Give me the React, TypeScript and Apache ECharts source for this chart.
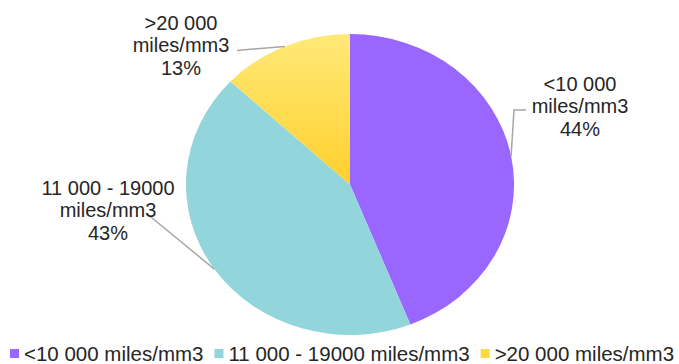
import React, { useEffect, useRef } from "react";
import * as echarts from "echarts";

const categories = ["<10 000 miles/mm3", "11 000 - 19000 miles/mm3", ">20 000 miles/mm3"];
const labelNames = ["<10 000\nmiles/mm3", "11 000 - 19000\nmiles/mm3", ">20 000\nmiles/mm3"];
const values = [44, 43, 13];

const colors: any[] = [
  "#9966FF",
  "#92D6DC",
  new echarts.graphic.LinearGradient(0, 0, 0, 1, [
    { offset: 0, color: "#FFE977" },
    { offset: 1, color: "#FFD02E" },
  ]),
];
const legendColors = ["#9966FF", "#92D6DC", "#FFD83F"];

// layout (label placement)
const CX = 350, CY = 184.5, RX = 164, RY = 150.5;
const labelPos = [
  [580, 106],
  [108, 210],
  [181, 45],
];
const lineBends: number[][][] = [
  [[514, 110], [526, 110]],
  [[146, 213]],
  [[237, 50.5]],
];

export default function App() {
  const ref = useRef<HTMLDivElement>(null);
  useEffect(() => {
    const chart = echarts.init(ref.current!, undefined, { renderer: "svg" });
    const total = values.reduce((a, b) => a + b, 0);
    const cum: number[] = [];
    let acc = 0;
    values.forEach((v) => {
      cum.push(acc);
      acc += v;
    });
    const series = categories.map((name, i) => ({
      type: "custom",
      name,
      coordinateSystem: "none",
      itemStyle: { color: legendColors[i] },
      data: [values[i]],
      renderItem: (params: any, api: any) => {
        const v = api.value(0);
        const start = (cum[i] / total) * Math.PI * 2 - Math.PI / 2;
        const end = ((cum[i] + v) / total) * Math.PI * 2 - Math.PI / 2;
        const mid = (start + end) / 2;
        const px = CX + RX * Math.cos(mid);
        const py = CY + RY * Math.sin(mid);
        const pct = Math.round((v / total) * 100);
        return {
          type: "group",
          children: [
            {
              type: "sector",
              x: CX,
              y: CY,
              scaleX: RX / RY,
              shape: { cx: 0, cy: 0, r0: 0, r: RY, startAngle: start, endAngle: end, clockwise: true },
              style: { fill: colors[i] },
            },
            {
              type: "polyline",
              shape: { points: [[px, py], ...lineBends[i]] },
              style: { stroke: "#A6A6A6", lineWidth: 1.5, fill: null },
            },
            {
              type: "text",
              x: labelPos[i][0],
              y: labelPos[i][1],
              style: {
                text: labelNames[i] + "\n" + pct + "%",
                align: "center",
                verticalAlign: "middle",
                fontFamily: "Liberation Sans, Arial, sans-serif",
                fontSize: 20,
                lineHeight: 22.5,
                fill: "#262626",
              },
            },
          ],
        };
      },
    }));
    chart.setOption({
      animation: false,
      legend: {
        data: categories,
        left: 10,
        bottom: 0,
        padding: 0,
        itemWidth: 9,
        itemHeight: 9,
        itemGap: 11,
        icon: "rect",
        textStyle: {
          fontFamily: "Liberation Sans, Arial, sans-serif",
          fontSize: 20.5,
          color: "#262626",
        },
      },
      series,
    });
    return () => chart.dispose();
  }, []);
  return (
    <div
      ref={ref}
      style={{ position: "absolute", left: 0, top: 0, width: 679, height: 364 }}
    />
  );
}
